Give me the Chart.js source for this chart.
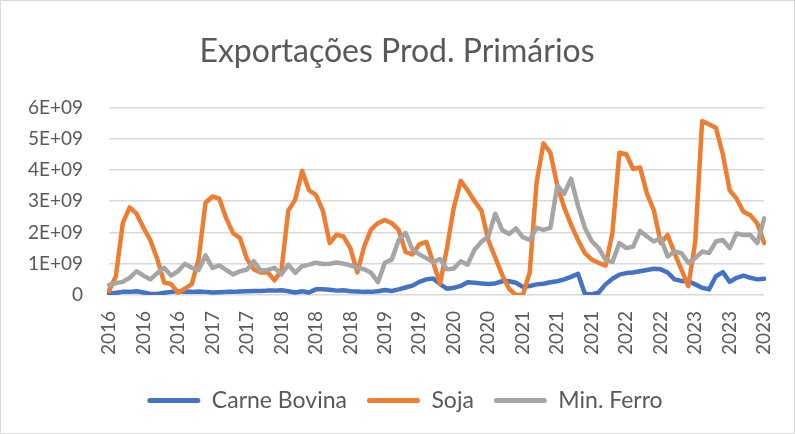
<!DOCTYPE html>
<html>
<head>
<meta charset="utf-8">
<script src="https://cdn.jsdelivr.net/npm/chart.js@4"></script>
<style>
  html, body { margin: 0; padding: 0; background: #fff; }
  #wrap { width: 795px; height: 434px; position: relative; }
</style>
</head>
<body>
<div id="wrap"><canvas id="chart"></canvas></div>
<script>
// valores em bilhões (E+09), mensais jan/2016 - dez/2023
const years = ['2016', '2017', '2018', '2019', '2020', '2021', '2022', '2023'];

const carneBovina = [
  0.05, 0.07, 0.10, 0.10, 0.12, 0.08, 0.03, 0.03, 0.07, 0.10, 0.12, 0.10,
  0.10, 0.11, 0.10, 0.08, 0.09, 0.10, 0.10, 0.11, 0.12, 0.13, 0.13, 0.14,
  0.14, 0.15, 0.12, 0.08, 0.12, 0.08, 0.18, 0.18, 0.17, 0.14, 0.15, 0.12,
  0.11, 0.10, 0.10, 0.12, 0.16, 0.13, 0.18, 0.24, 0.30, 0.42, 0.50, 0.53,
  0.35, 0.20, 0.23, 0.29, 0.41, 0.39, 0.37, 0.35, 0.37, 0.44, 0.44, 0.39,
  0.26, 0.29, 0.34, 0.36, 0.41, 0.44, 0.50, 0.58, 0.68, 0.04, 0.02, 0.08,
  0.34, 0.52, 0.65, 0.70, 0.72, 0.76, 0.80, 0.84, 0.82, 0.72, 0.50, 0.45,
  0.44, 0.34, 0.23, 0.18, 0.60, 0.73, 0.42, 0.55, 0.62, 0.55, 0.50, 0.52
];

const soja = [
  0.13, 0.60, 2.30, 2.80, 2.60, 2.15, 1.75, 1.15, 0.40, 0.35, 0.08, 0.20,
  0.35, 1.15, 2.95, 3.15, 3.08, 2.45, 1.98, 1.82, 1.15, 0.82, 0.72, 0.73,
  0.47, 0.78, 2.70, 3.05, 3.97, 3.35, 3.20, 2.70, 1.66, 1.93, 1.87, 1.50,
  0.72, 1.55, 2.10, 2.30, 2.40, 2.30, 2.08, 1.38, 1.30, 1.62, 1.70, 1.05,
  0.36, 1.50, 2.80, 3.65, 3.35, 3.00, 2.70, 1.75, 1.20, 0.65, 0.20, 0.00,
  0.00, 0.72, 3.60, 4.85, 4.55, 3.50, 2.80, 2.25, 1.76, 1.34, 1.13, 1.03,
  0.94, 2.00, 4.55, 4.50, 4.03, 4.08, 3.24, 2.71, 1.66, 1.92, 1.34, 0.81,
  0.28, 1.70, 5.56, 5.46, 5.35, 4.50, 3.35, 3.08, 2.66, 2.55, 2.29, 1.66
];

const minFerro = [
  0.32, 0.38, 0.42, 0.55, 0.76, 0.62, 0.50, 0.70, 0.87, 0.62, 0.76, 1.00,
  0.87, 0.80, 1.27, 0.87, 0.95, 0.80, 0.66, 0.76, 0.81, 1.08, 0.78, 0.80,
  0.87, 0.66, 0.97, 0.71, 0.92, 0.97, 1.03, 0.99, 1.00, 1.04, 1.00, 0.95,
  0.88, 0.82, 0.71, 0.41, 1.03, 1.13, 1.76, 1.99, 1.45, 1.30, 1.18, 1.05,
  1.15, 0.82, 0.85, 1.08, 0.97, 1.45, 1.70, 1.87, 2.60, 2.08, 1.95, 2.13,
  1.85, 1.76, 2.15, 2.08, 2.15, 3.50, 3.24, 3.72, 2.85, 2.15, 1.72, 1.50,
  1.12, 1.06, 1.66, 1.50, 1.55, 2.05, 1.87, 1.71, 1.82, 1.23, 1.39, 1.34,
  1.03, 1.18, 1.39, 1.34, 1.71, 1.76, 1.50, 1.97, 1.92, 1.92, 1.66, 2.45
];

const yTicks = [0, 1, 2, 3, 4, 5, 6];

// one category per month, labelled with its year
const labels = [];
years.forEach(y => { for (let m = 0; m < 12; m++) labels.push(y); });

const txt = '#595959';
Chart.defaults.font.family = 'Lato, "Liberation Sans", sans-serif';
Chart.defaults.color = txt;

const frame = {
  id: 'frame',
  beforeDraw(c) {
    const ctx = c.ctx;
    ctx.save();
    ctx.fillStyle = '#ffffff';
    ctx.fillRect(0, 0, c.width, c.height);
    ctx.strokeStyle = '#d9d9d9';
    ctx.lineWidth = 1;
    ctx.strokeRect(0.5, 0.5, c.width - 1, c.height - 1);
    ctx.restore();
  }
};

// nudge the legend a bit to the right, like in Excel
const legendShift = {
  id: 'legendShift',
  afterLayout(c) {
    if (c.legend) { c.legend.left += 8; c.legend.right += 8; }
  }
};

const line = (label, data, color, order) => ({
  label, data, order,
  borderColor: color,
  backgroundColor: color,
  borderWidth: 4.5,
  pointRadius: 0,
  tension: 0,
  borderJoinStyle: 'round',
  borderCapStyle: 'round'
});

new Chart(document.getElementById('chart'), {
  type: 'line',
  data: {
    labels,
    datasets: [
      line('Carne Bovina', carneBovina, '#4472c4', 3),
      line('Soja', soja, '#ed7d31', 2),
      line('Min. Ferro', minFerro, '#a5a5a5', 1)
    ]
  },
  options: {
    responsive: true,
    maintainAspectRatio: false,
    animation: false,
    layout: { padding: { left: 22, right: 23, top: 0, bottom: 12 } },
    plugins: {
      title: {
        display: true,
        text: 'Exportações Prod. Primários',
        color: txt,
        font: { size: 32, weight: 'normal' },
        padding: { top: 32, bottom: 37 }
      },
      legend: {
        position: 'bottom',
        labels: {
          color: txt,
          font: { size: 23 },
          boxWidth: 53,
          boxHeight: 5,
          padding: 20,
          sort: (a, b) => a.datasetIndex - b.datasetIndex,
          generateLabels(chart) {
            const items = Chart.defaults.plugins.legend.labels.generateLabels(chart);
            items.forEach(it => { it.lineWidth = 0; it.fillStyle = it.strokeStyle; it.borderRadius = 2.5; });
            return items;
          }
        }
      },
      tooltip: { enabled: false }
    },
    scales: {
      x: {
        offset: false,
        grid: { display: false },
        border: { display: false },
        afterFit: s => { s.height = 74; },
        ticks: {
          autoSkip: false,
          minRotation: 90,
          maxRotation: 90,
          padding: 8,
          color: txt,
          font: { size: 19 },
          callback(v, i) { return i % 5 === 0 ? this.getLabelForValue(v) : ''; }
        }
      },
      y: {
        min: yTicks[0],
        max: yTicks[yTicks.length - 1],
        afterFit: s => { s.width = 87; },
        afterBuildTicks: s => { s.ticks = yTicks.map(v => ({ value: v })); },
        grid: { color: '#d9d9d9', lineWidth: 1.5, drawTicks: false },
        border: { display: false },
        ticks: {
          padding: 26,
          color: txt,
          font: { size: 19 },
          callback: v => v === 0 ? '0' : v + 'E+09'
        }
      }
    }
  },
  plugins: [frame, legendShift]
});
</script>
</body>
</html>
